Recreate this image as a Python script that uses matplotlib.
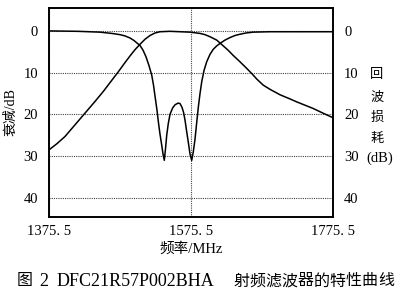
import matplotlib
matplotlib.use("Agg")
import matplotlib.pyplot as plt

# Attenuation (S21), dB
s21_freq = [1375.5, 1386.8, 1398.0, 1412.1, 1426.2, 1440.3, 1452.0, 1461.4, 1473.1,
            1482.5, 1489.6, 1496.6, 1503.7, 1510.7, 1517.8, 1524.8, 1531.8, 1545.9,
            1560.0, 1574.1, 1588.2, 1595.2, 1602.3, 1611.7, 1621.0, 1627.6, 1635.1,
            1644.5, 1652.9, 1661.0, 1668.5, 1677.3, 1686.8, 1700.9, 1715.0, 1724.4,
            1736.1, 1747.8, 1761.4, 1775.5]
s21_db = [28.5, 27.0, 25.3, 22.5, 19.7, 16.9, 14.5, 12.4, 9.8,
          7.6, 6.0, 4.5, 3.2, 2.0, 1.1, 0.5, 0.2, 0.1,
          0.2, 0.3, 0.6, 0.9, 1.4, 2.2, 3.6, 4.6, 5.9,
          7.4, 8.8, 10.2, 11.6, 13.0, 14.0, 15.3, 16.3, 17.0,
          17.8, 18.6, 19.7, 20.8]

# Return loss, dB
rl_freq = [1375.5, 1416.3, 1447.3, 1463.8, 1475.5, 1482.5, 1489.6, 1495.2, 1499.4,
           1503.7, 1507.9, 1512.1, 1516.3, 1520.2, 1522.7, 1524.8, 1527.6, 1529.7,
           1531.8, 1534.2, 1536.1, 1537.9, 1539.6, 1541.3, 1543.5, 1545.9, 1549.5,
           1553.0, 1557.2, 1560.0, 1562.8, 1565.0, 1567.1, 1569.4, 1572.0, 1574.1,
           1576.5, 1578.7, 1581.1, 1583.5, 1585.8, 1588.2, 1590.6, 1593.8, 1597.6,
           1602.3, 1606.9, 1611.7, 1616.4, 1623.4, 1630.4, 1637.5, 1644.5, 1652.9,
           1662.8, 1686.8, 1775.5]
rl_db = [0.0, 0.1, 0.3, 0.6, 0.9, 1.2, 1.7, 2.3, 2.9,
         3.5, 4.6, 6.2, 8.3, 10.6, 13.0, 15.6, 19.0, 22.0,
         24.7, 27.3, 29.5, 31.0, 28.2, 25.0, 22.2, 20.0, 18.5,
         17.7, 17.3, 17.4, 18.3, 19.5, 21.4, 24.1, 27.0, 29.5,
         31.0, 29.0, 26.0, 22.0, 18.3, 15.0, 12.2, 9.5, 7.4,
         5.6, 4.4, 3.6, 3.0, 2.2, 1.6, 1.1, 0.8, 0.5,
         0.3, 0.2, 0.2]

x_ticks = [1375.5, 1575.5, 1775.5]
x_tick_labels = ["1375. 5", "1575. 5", "1775. 5"]
y_ticks = [0, 10, 20, 30, 40]

right_label_chars = ["回", "波", "损", "耗"]
caption_prefix = ["图", "2"]
caption_model = "DFC21R57P002BHA"
caption_title = "射频滤波器的特性曲线"

serif = ["Liberation Serif", "Noto Sans CJK SC"]
cjk = ["Noto Sans CJK SC", "DejaVu Sans"]

fig = plt.figure(figsize=(4.0, 2.94), dpi=100)
ax = fig.add_axes([0.1225, 0.263, 0.71, 0.71])
ax2 = ax.twinx()

ax.plot(s21_freq, s21_db, color="black", lw=1.1)
ax2.plot(rl_freq, rl_db, color="black", lw=1.1)

for a in (ax, ax2):
    a.set_xlim(1375.5, 1775.5)
    a.set_ylim(44.5, -5.5)
    a.set_yticks(y_ticks)
    a.tick_params(length=0, labelsize=10.5)
    for s in a.spines.values():
        s.set_linewidth(1.2)
        s.set_color("black")

ax.set_xticks(x_ticks)
ax.set_xticklabels(x_tick_labels, fontfamily=serif, fontsize=10.5)
ax.tick_params(axis="x", pad=6)
ax.tick_params(axis="y", pad=8)
ax2.tick_params(axis="y", pad=8)
for lab in ax.get_yticklabels() + ax2.get_yticklabels():
    lab.set_fontfamily(serif)

ax.grid(True, color="#444444", lw=0.8, linestyle=(0, (1, 1)))

ax.set_ylabel("衰减/dB", fontfamily=serif, fontsize=10, labelpad=4)
ax.set_xlabel("频率/MHz", fontfamily=serif, fontsize=10.5, labelpad=3)

for ch, yy in zip(right_label_chars, [75, 97, 117, 138]):
    fig.text(377 / 400, 1 - yy / 294, ch, fontfamily=cjk, fontsize=9.5,
             ha="center", va="center")
fig.text(380 / 400, 1 - 158 / 294, "(dB)", fontfamily=serif, fontsize=10.5,
         ha="center", va="center")

# caption, laid out piece by piece to mimic the wide typesetting
cy = 1 - 281 / 294
fig.text(25 / 400, cy, caption_prefix[0], fontfamily=cjk, fontsize=11.5,
         ha="center", va="center")
fig.text(44 / 400, cy, caption_prefix[1], fontfamily=serif, fontsize=13,
         ha="center", va="center")
fig.text(57 / 400, cy, caption_model, fontfamily=serif, fontsize=13,
         ha="left", va="center")
for i, ch in enumerate(caption_title):
    fig.text((241 + 16.1 * i) / 400, cy, ch, fontfamily=cjk, fontsize=11.5,
             ha="center", va="center")

fig.savefig("out.png", dpi=100, facecolor="white")
